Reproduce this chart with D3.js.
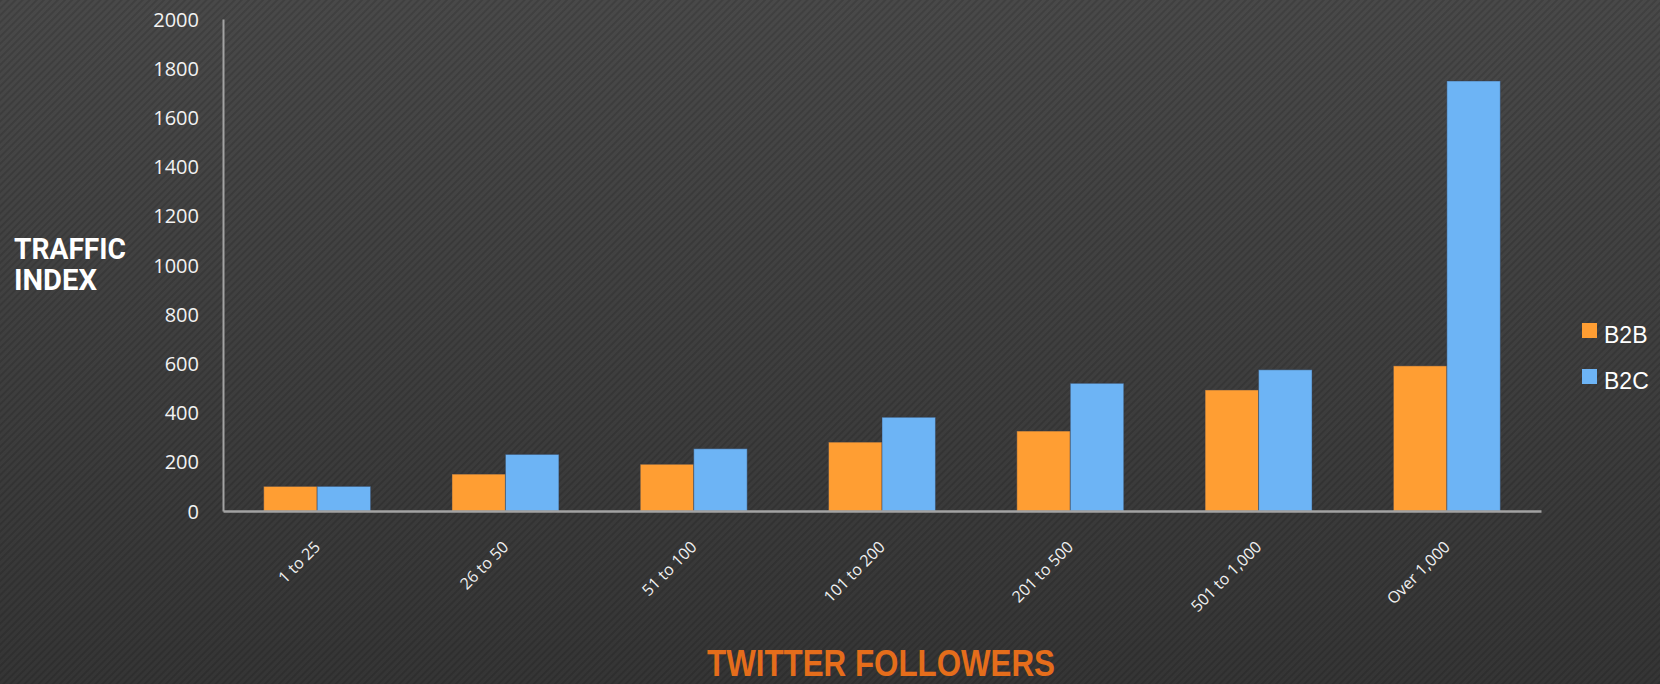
<!DOCTYPE html>
<html>
<head>
<meta charset="utf-8">
<style>
  html, body { margin: 0; padding: 0; background: #3d3d3d; }
  svg { display: block; }
</style>
</head>
<body>
<svg width="1660" height="684"></svg>
<script src="https://d3js.org/d3.v7.min.js"></script>
<script>

var categories = ["1 to 25", "26 to 50", "51 to 100", "101 to 200", "201 to 500", "501 to 1,000", "Over 1,000"];
var seriesNames = ["B2B", "B2C"];
var b2b = [100, 150, 190, 280, 325, 492, 590];
var b2c = [100, 230, 253, 381, 519, 574, 1748];
var yTicks = [0, 200, 400, 600, 800, 1000, 1200, 1400, 1600, 1800, 2000];

var svg = d3.select("svg"),
    width = +svg.attr("width"),
    height = +svg.attr("height");

var colors = { B2B: "#ff9e33", B2C: "#6db4f5" };

var defs = svg.append("defs");

var grad = defs.append("linearGradient")
    .attr("id", "bg")
    .attr("x1", 0).attr("y1", 0).attr("x2", 0).attr("y2", 1);
grad.append("stop").attr("offset", "0%").attr("stop-color", "#494949");
grad.append("stop").attr("offset", "100%").attr("stop-color", "#353535");

var pat = defs.append("pattern")
    .attr("id", "stripes")
    .attr("patternUnits", "userSpaceOnUse")
    .attr("width", 5).attr("height", 5)
    .attr("patternTransform", "rotate(45)");
pat.append("rect")
    .attr("width", 2).attr("height", 5)
    .attr("fill", "#000").attr("opacity", 0.13);

svg.append("rect").attr("width", width).attr("height", height).attr("fill", "url(#bg)");
svg.append("rect").attr("width", width).attr("height", height).attr("fill", "url(#stripes)");

var rows = categories.map(function(c, i) {
  return { category: c, B2B: b2b[i], B2C: b2c[i] };
});

var x0 = d3.scaleBand()
    .domain(categories)
    .range([223, 1541])
    .paddingInner(0.432)
    .paddingOuter(0.216);

var x1 = d3.scaleBand()
    .domain(seriesNames)
    .range([0, x0.bandwidth()]);

var y = d3.scaleLinear()
    .domain([0, 2000])
    .range([511, 19]);

// bars
var group = svg.append("g")
  .selectAll("g")
  .data(rows)
  .enter().append("g")
    .attr("transform", function(d) { return "translate(" + x0(d.category) + ",0)"; });

group.selectAll("rect")
  .data(function(d) { return seriesNames.map(function(k) { return { key: k, value: d[k] }; }); })
  .enter().append("rect")
    .attr("x", function(d) { return x1(d.key); })
    .attr("y", function(d) { return y(d.value); })
    .attr("width", x1.bandwidth())
    .attr("height", function(d) { return y(0) - y(d.value); })
    .attr("fill", function(d) { return colors[d.key]; })
    .attr("stroke", "rgba(50,60,80,0.45)")
    .attr("stroke-width", 1);

// y axis
var yAxis = svg.append("g")
    .attr("transform", "translate(223,0)")
    .call(d3.axisLeft(y).tickValues(yTicks).tickSize(0).tickPadding(24).tickFormat(d3.format("d")));
yAxis.select(".domain").attr("stroke", "#a3a3a3").attr("stroke-width", 2);
yAxis.selectAll("text")
    .attr("fill", "#f2f2f2")
    .attr("font-family", "'Open Sans', sans-serif")
    .attr("font-size", 20)
    .attr("dy", "0.35em");

// x axis
var xAxis = svg.append("g")
    .attr("transform", "translate(0,511)")
    .call(d3.axisBottom(x0).tickSize(0).tickPadding(0));
xAxis.select(".domain").attr("stroke", "#a3a3a3").attr("stroke-width", 2.5);
xAxis.selectAll("text")
    .attr("fill", "#f0f0f0")
    .attr("font-family", "'Open Sans', sans-serif")
    .attr("font-size", 16)
    .attr("text-anchor", "end")
    .attr("dy", 0)
    .attr("y", 0)
    .attr("transform", "translate(4,37) rotate(-45)");

// axis titles
var yTitle = svg.append("text")
    .attr("fill", "#ffffff")
    .attr("font-family", "Roboto, sans-serif")
    .attr("font-weight", "bold")
    .attr("font-size", 29);
yTitle.append("tspan").attr("x", 14).attr("y", 259)
    .attr("textLength", 112).attr("lengthAdjust", "spacingAndGlyphs").text("TRAFFIC");
yTitle.append("tspan").attr("x", 14).attr("y", 290)
    .attr("textLength", 83).attr("lengthAdjust", "spacingAndGlyphs").text("INDEX");

svg.append("text")
    .attr("x", 707)
    .attr("y", 676)
    .attr("fill", "#e56d1b")
    .attr("font-family", "'Liberation Sans', Arial, sans-serif")
    .attr("font-weight", "bold")
    .attr("font-size", 36)
    .attr("textLength", 348)
    .attr("lengthAdjust", "spacingAndGlyphs")
    .text("TWITTER FOLLOWERS");

// legend
var legend = svg.append("g")
  .selectAll("g")
  .data(seriesNames)
  .enter().append("g")
    .attr("transform", function(d, i) { return "translate(1582," + (323 + i * 46) + ")"; });

legend.append("rect")
    .attr("width", 15)
    .attr("height", 15)
    .attr("fill", function(d) { return colors[d]; });

legend.append("text")
    .attr("x", 22)
    .attr("y", 19.5)
    .attr("fill", "#ffffff")
    .attr("font-family", "'Liberation Sans', Arial, sans-serif")
    .attr("font-size", 23)
    .text(function(d) { return d; });

</script>
</body>
</html>
